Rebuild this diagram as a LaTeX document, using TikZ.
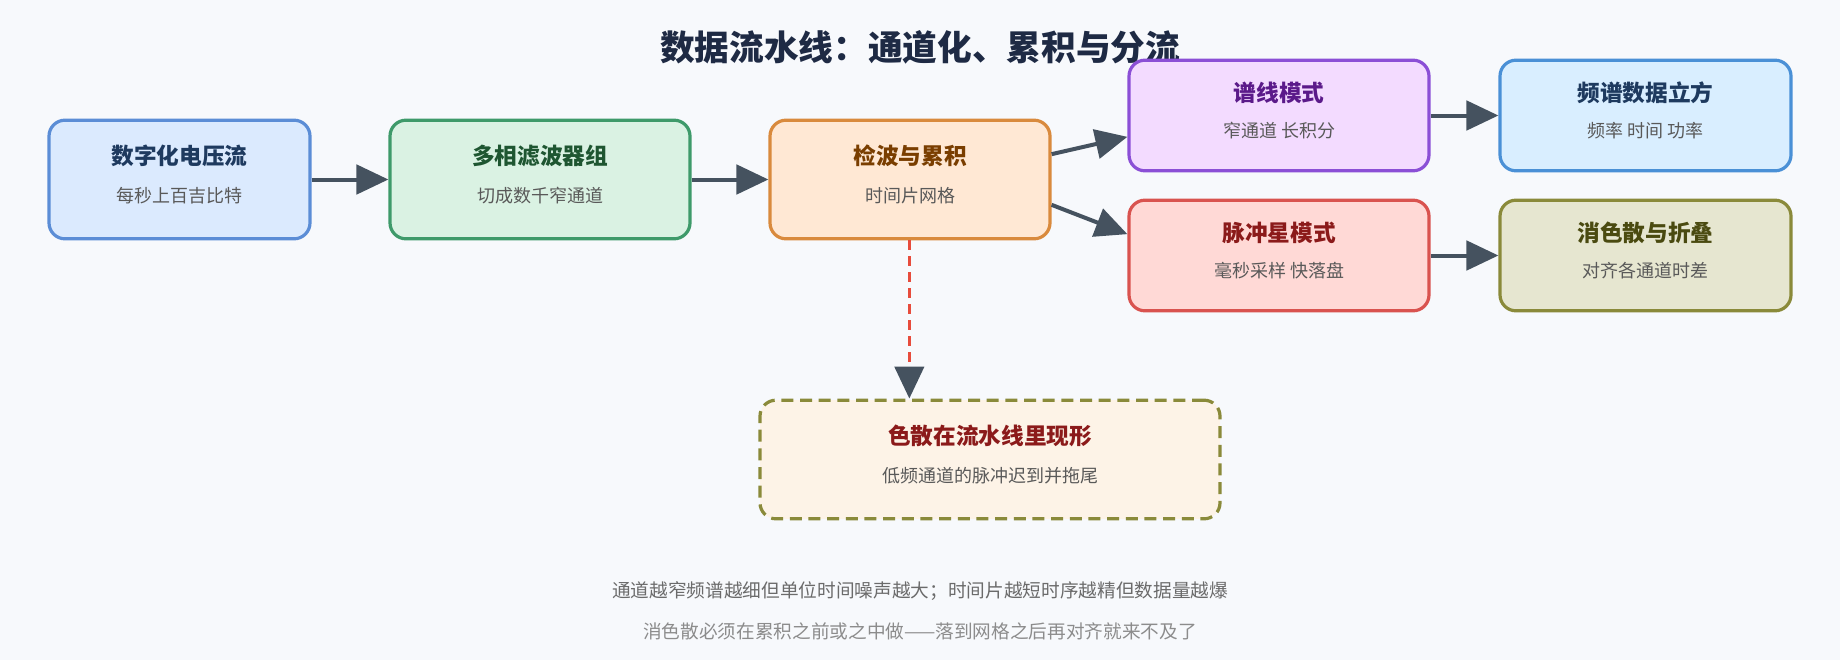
\documentclass[tikz,border=0pt]{standalone}
\usepackage{fontspec}
\setmainfont{Noto Sans CJK SC}
\usetikzlibrary{arrows.meta,positioning}
\definecolor{bgc}{HTML}{F7F9FC}
\definecolor{arrc}{HTML}{45525F}
\tikzset{every picture/.style={line width=0.75pt}}
\tikzset{
  box/.style={draw, rounded corners=12pt, line width=2.4pt, minimum width=#1*0.75pt},
  ttl/.style={font=\bfseries\fontsize{17}{20}\selectfont},
  sub/.style={font=\fontsize{13.5}{16}\selectfont, text=black!65},
  flow/.style={draw=arrc, line width=3pt, -{Triangle[length=24pt,width=22pt]}},
}
\begin{document}
\begin{tikzpicture}[x=0.75pt,y=0.75pt,yscale=-1,xscale=1]
\fill[bgc] (0,0) rectangle (1840,660);

% title
\node (title) at (920,47) {\bfseries\fontsize{26}{30}\selectfont\color[HTML]{1E2A44}数据流水线：通道化、累积与分流};

% boxes
\node[box=261, minimum height=89pt, draw={rgb,255:red,91;green,141;blue,214}, fill={rgb,255:red,219;green,234;blue,254}] (volt) at (179.5,179.5) {};
\node[box=300, minimum height=89pt, draw={rgb,255:red,62;green,154;blue,106}, fill={rgb,255:red,218;green,242;blue,227}] (pfb) at (540,179.5) {};
\node[box=280, minimum height=89pt, draw={rgb,255:red,217;green,138;blue,61}, fill={rgb,255:red,255;green,232;blue,212}] (acc) at (910,179.5) {};
\node[box=300, minimum height=83pt, draw={rgb,255:red,139;green,79;blue,214}, fill={rgb,255:red,243;green,219;blue,255}] (line) at (1279,115.5) {};
\node[box=291, minimum height=83pt, draw={rgb,255:red,74;green,144;blue,214}, fill={rgb,255:red,217;green,238;blue,255}] (cube) at (1645.5,115.5) {};
\node[box=300, minimum height=83pt, draw={rgb,255:red,217;green,83;blue,79}, fill={rgb,255:red,255;green,217;blue,214}] (psr) at (1279,255.5) {};
\node[box=291, minimum height=83pt, draw={rgb,255:red,138;green,138;blue,58}, fill={rgb,255:red,230;green,230;blue,208}] (dedisp) at (1645.5,255.5) {};
\node[box=460, minimum height=89pt, dashed, dash pattern=on 9pt off 5pt, draw={rgb,255:red,138;green,138;blue,58}, fill={rgb,255:red,253;green,243;blue,231}] (smear) at (990,459.5) {};

% labels
\node[ttl, text={rgb,255:red,30;green,58;blue,95}] (voltT) at ([yshift=-18pt]volt.center) {数字化电压流};
\node[sub] (voltS) at ([yshift=12pt]volt.center) {每秒上百吉比特};
\node[ttl, text={rgb,255:red,30;green,86;blue,49}] (pfbT) at ([yshift=-18pt]pfb.center) {多相滤波器组};
\node[sub] (pfbS) at ([yshift=12pt]pfb.center) {切成数千窄通道};
\node[ttl, text={rgb,255:red,122;green,62;blue,0}] (accT) at ([yshift=-18pt]acc.center) {检波与累积};
\node[sub] (accS) at ([yshift=12pt]acc.center) {时间片网格};
\node[ttl, text={rgb,255:red,91;green,26;blue,138}] (lineT) at ([yshift=-17pt]line.center) {谱线模式};
\node[sub] (lineS) at ([yshift=11pt]line.center) {窄通道 长积分};
\node[ttl, text={rgb,255:red,30;green,58;blue,95}] (cubeT) at ([yshift=-17pt]cube.center) {频谱数据立方};
\node[sub] (cubeS) at ([yshift=11pt]cube.center) {频率 时间 功率};
\node[ttl, text={rgb,255:red,139;green,26;blue,26}] (psrT) at ([yshift=-17pt]psr.center) {脉冲星模式};
\node[sub] (psrS) at ([yshift=11pt]psr.center) {毫秒采样 快落盘};
\node[ttl, text={rgb,255:red,74;green,74;blue,16}] (dedispT) at ([yshift=-17pt]dedisp.center) {消色散与折叠};
\node[sub] (dedispS) at ([yshift=11pt]dedisp.center) {对齐各通道时差};
\node[ttl, text={rgb,255:red,139;green,26;blue,26}] (smearT) at ([yshift=-18pt]smear.center) {色散在流水线里现形};
\node[sub] (smearS) at ([yshift=12pt]smear.center) {低频通道的脉冲迟到并拖尾};

% connectors
\draw[flow] (volt) -- (pfb);
\draw[flow] (pfb) -- (acc);
\draw[flow] ([yshift=-19pt]acc.east) -- ([yshift=16pt]line.west);
\draw[flow] ([yshift=19pt]acc.east) -- ([yshift=-16pt]psr.west);
\draw[flow] (line) -- (cube);
\draw[flow] (psr) -- (dedisp);
\coordinate (accB) at ([xshift=-0.5pt]acc.south);
\draw[line width=2.6pt, draw={rgb,255:red,231;green,76;blue,60}, dash pattern=on 7pt off 5pt, -{Triangle[length=24pt,width=22pt,color=arrc]}] (accB) -- (smear.north -| accB);

% notes
\node[font=\fontsize{14}{17}\selectfont, text=black!58] (note1) at (920,591) {通道越窄频谱越细但单位时间噪声越大；时间片越短时序越精但数据量越爆};
\node[font=\fontsize{14}{17}\selectfont, text=black!45] (note2) at (920,631) {消色散必须在累积之前或之中做——落到网格之后再对齐就来不及了};
\end{tikzpicture}
\end{document}
